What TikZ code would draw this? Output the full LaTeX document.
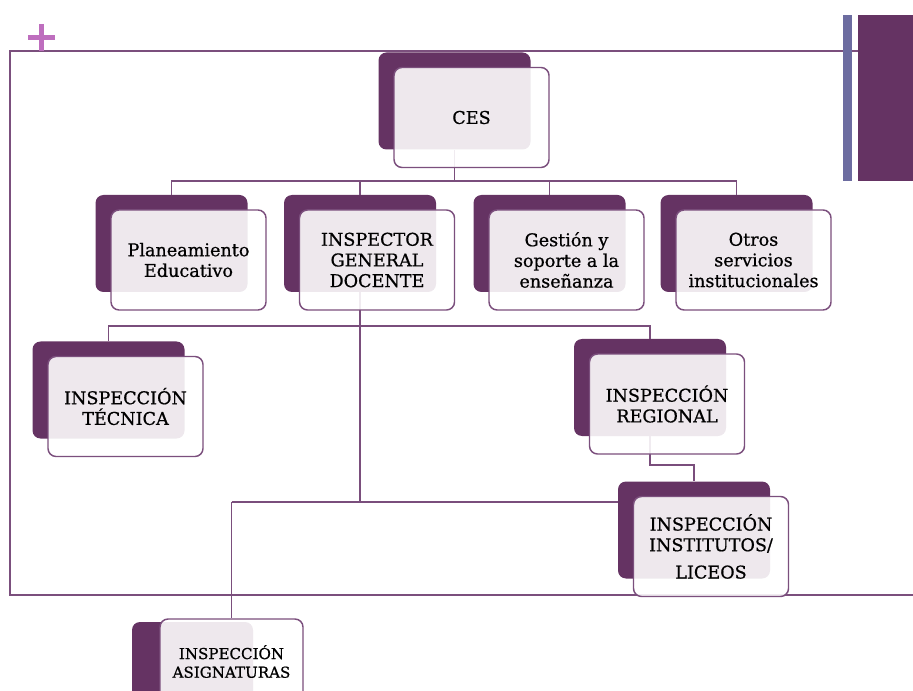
\documentclass[tikz,border=0pt]{standalone}
\usepackage{fontspec}
\setmainfont{DejaVu Serif}
\newfontfamily\boxfont{DejaVu Serif}[BoldFont=DejaVu Serif,BoldFeatures={FakeBold=0.7}]
\definecolor{plum}{RGB}{101,51,99}
\definecolor{plumline}{RGB}{123,79,125}
\definecolor{linkc}{RGB}{122,78,124}
\definecolor{barblue}{RGB}{108,108,160}
\definecolor{pluspink}{RGB}{190,110,190}

\begin{document}
\begin{tikzpicture}[x=0.75pt,y=-0.75pt,
    back/.style={fill=plum,rounded corners=6pt,minimum width=114pt,minimum height=72.75pt,inner sep=0pt},
    front/.style={draw=plumline,line width=1.1pt,fill=white,fill opacity=0.89,text opacity=1,
      rounded corners=6pt,minimum width=116.25pt,minimum height=75pt,inner sep=0pt,
      align=center,font=\boxfont\bfseries\fontsize{13.2}{15.5}\selectfont},
    link/.style={draw=linkc,line width=1.3pt}]
  \clip (0,0) rectangle (913,691);

  % slide frame
  \draw[plumline,line width=1.4pt] (858,51) -- (10,51) -- (10,595) -- (913,595);
  \fill[barblue] (843,15) rectangle (852,181);
  \fill[plum] (858,15) rectangle (913,181);
  \draw[pluspink,line width=4pt] (28,37.5) -- (55,37.5) (41.5,24) -- (41.5,51);

  % back boxes
  \node[back] (ces-b) at (454.5,101) {};
  \node[back] (plan-b) at (171.5,243.5) {};
  \node[back] (igd-b) at (360,243.5) {};
  \node[back] (gest-b) at (549.5,243.5) {};
  \node[back] (otros-b) at (736.5,243.5) {};
  \node[back] (tec-b) at (108.5,390) {};
  \node[back] (reg-b) at (650,387.5) {};
  \node[back] (inst-b) at (694,530) {};
  \node[back,minimum width=90.75pt,minimum height=63.75pt] (asig-b) at (192.5,664.5) {};

  % connectors
  \coordinate (bus1) at (454.5,181);
  \coordinate (bus2) at (360,326);
  \coordinate (bus3) at (360,502);
  \coordinate (bus4) at (650,465);
  \draw[link] (ces-b.south) -- (bus1);
  \draw[link] (plan-b.north) -- (plan-b.north |- bus1) -- (otros-b.north |- bus1) -- (otros-b.north);
  \draw[link] (igd-b.north) -- (igd-b.north |- bus1);
  \draw[link] (gest-b.north) -- (gest-b.north |- bus1);
  \draw[link] (igd-b.south) -- (bus3);
  \draw[link] (tec-b.north) -- (tec-b.north |- bus2) -- (reg-b.north |- bus2) -- (reg-b.north);
  \draw[link] (reg-b.south) -- (bus4) -- (inst-b.north |- bus4) -- (inst-b.north);

  % front boxes
  \node[front] (ces) at ([shift={(17,16.5)}]ces-b.center) {CES};
  \node[front] (plan) at ([shift={(17,16.5)}]plan-b.center) {Planeamiento\\Educativo};
  \node[front] (igd) at ([shift={(17,16.5)}]igd-b.center) {INSPECTOR\\GENERAL\\DOCENTE};
  \node[front] (gest) at ([shift={(17,16.5)}]gest-b.center) {Gestión y\\soporte a la\\enseñanza};
  \node[front] (otros) at ([shift={(17,16.5)}]otros-b.center) {Otros\\servicios\\institucionales};
  \node[front] (tec) at ([shift={(17,16.5)}]tec-b.center) {INSPECCIÓN\\TÉCNICA};
  \node[front] (reg) at ([shift={(17,16.5)}]reg-b.center) {INSPECCIÓN\\REGIONAL};
  \node[front] (inst) at ([shift={(17,16.5)}]inst-b.center) {INSPECCIÓN\\INSTITUTOS/\\[5pt]LICEOS};
  \node[front,minimum width=107.25pt,minimum height=63.75pt,font=\boxfont\bfseries\fontsize{11.3}{14}\selectfont]
    (asig) at (231.5,661.5) {INSPECCIÓN\\ASIGNATURAS};

  % links to the lower boxes
  \draw[link] (asig.north |- bus3) -- (inst-b.west |- bus3);
  \draw[link] (asig.north |- bus3) -- (asig.north);
\end{tikzpicture}
\end{document}
